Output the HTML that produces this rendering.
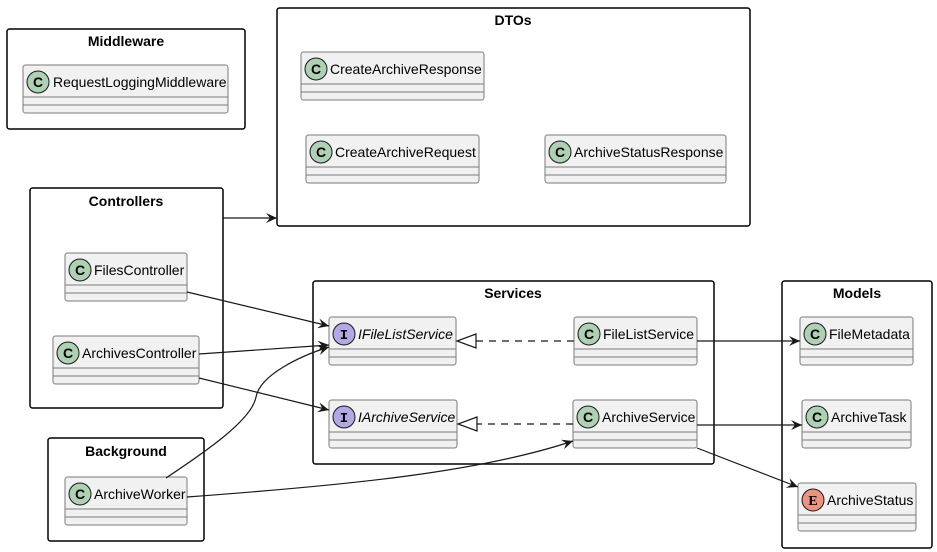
<!DOCTYPE html>
<html><head><meta charset="utf-8"><style>
html,body{margin:0;padding:0;background:#fff;}
svg{display:block;font-family:"Liberation Sans",sans-serif;}
.pk{fill:none;stroke:#000;stroke-width:1.5;}
.pt{font-weight:bold;font-size:14px;text-anchor:middle;}
.cb{fill:#F1F1F1;stroke:#7a7a7a;stroke-width:1;}
.cl{stroke:#7a7a7a;stroke-width:1;}
.nm{font-size:14px;fill:#000;}
.ic{fill:#ADD1B2;stroke:#181818;stroke-width:1;}
.ii{fill:#B4A7E5;stroke:#181818;stroke-width:1;}
.ie{fill:#EB937F;stroke:#181818;stroke-width:1;}
.lt{font-weight:bold;font-size:14px;text-anchor:middle;}
.ln{fill:none;stroke:#181818;stroke-width:1.2;}
</style></head><body>
<svg width="937" height="552" viewBox="0 0 937 552" xmlns="http://www.w3.org/2000/svg">
<defs>
<marker id="a" viewBox="0 0 12 10" refX="11" refY="5" markerWidth="12" markerHeight="10" markerUnits="userSpaceOnUse" orient="auto">
<path d="M0,0 L11,5 L0,10 L4,5 Z" fill="#181818"/>
</marker>
</defs>
<!-- packages -->
<rect class="pk" x="7" y="29" width="238" height="100" rx="2.5"/><text class="pt" x="126" y="46">Middleware</text>
<rect class="pk" x="277" y="8" width="473" height="218" rx="2.5"/><text class="pt" x="513" y="25">DTOs</text>
<rect class="pk" x="30" y="188" width="193" height="220" rx="2.5"/><text class="pt" x="126" y="206">Controllers</text>
<rect class="pk" x="313" y="281" width="401" height="183" rx="2.5"/><text class="pt" x="513" y="298">Services</text>
<rect class="pk" x="782" y="281" width="150" height="267" rx="2.5"/><text class="pt" x="857" y="298">Models</text>
<rect class="pk" x="48" y="438" width="156" height="103" rx="2.5"/><text class="pt" x="126" y="456">Background</text>

<!-- classes -->
<g>
<rect class="cb" x="23" y="65" width="205" height="48" rx="2.5"/><line class="cl" x1="23" y1="97" x2="228" y2="97"/><line class="cl" x1="23" y1="105" x2="228" y2="105"/>
<circle class="ic" cx="38" cy="82" r="11"/><text class="lt" x="38" y="87">C</text><text class="nm" x="53" y="87">RequestLoggingMiddleware</text>

<rect class="cb" x="301" y="52" width="183" height="48" rx="2.5"/><line class="cl" x1="301" y1="84" x2="484" y2="84"/><line class="cl" x1="301" y1="92" x2="484" y2="92"/>
<circle class="ic" cx="316" cy="69" r="11"/><text class="lt" x="316" y="74">C</text><text class="nm" x="330" y="74">CreateArchiveResponse</text>

<rect class="cb" x="306" y="135" width="173" height="48" rx="2.5"/><line class="cl" x1="306" y1="167" x2="479" y2="167"/><line class="cl" x1="306" y1="175" x2="479" y2="175"/>
<circle class="ic" cx="321" cy="152" r="11"/><text class="lt" x="321" y="157">C</text><text class="nm" x="335" y="157">CreateArchiveRequest</text>

<rect class="cb" x="545" y="135" width="181" height="48" rx="2.5"/><line class="cl" x1="545" y1="167" x2="726" y2="167"/><line class="cl" x1="545" y1="175" x2="726" y2="175"/>
<circle class="ic" cx="560" cy="152" r="11"/><text class="lt" x="560" y="157">C</text><text class="nm" x="574" y="157">ArchiveStatusResponse</text>

<rect class="cb" x="65" y="253" width="122" height="48" rx="2.5"/><line class="cl" x1="65" y1="285" x2="187" y2="285"/><line class="cl" x1="65" y1="293" x2="187" y2="293"/>
<circle class="ic" cx="80" cy="270" r="11"/><text class="lt" x="80" y="275">C</text><text class="nm" x="94" y="275">FilesController</text>

<rect class="cb" x="53" y="336" width="146" height="48" rx="2.5"/><line class="cl" x1="53" y1="368" x2="199" y2="368"/><line class="cl" x1="53" y1="376" x2="199" y2="376"/>
<circle class="ic" cx="68" cy="353" r="11"/><text class="lt" x="68" y="358">C</text><text class="nm" x="82" y="358">ArchivesController</text>

<rect class="cb" x="329" y="317" width="127" height="48" rx="2.5"/><line class="cl" x1="329" y1="349" x2="456" y2="349"/><line class="cl" x1="329" y1="357" x2="456" y2="357"/>
<circle class="ii" cx="344" cy="334" r="11"/><text class="lt" x="344" y="339" style="font-family:'Liberation Mono',monospace">I</text><text class="nm" x="358" y="339" font-style="italic">IFileListService</text>

<rect class="cb" x="329" y="400" width="128" height="48" rx="2.5"/><line class="cl" x1="329" y1="432" x2="457" y2="432"/><line class="cl" x1="329" y1="440" x2="457" y2="440"/>
<circle class="ii" cx="344" cy="417" r="11"/><text class="lt" x="344" y="422" style="font-family:'Liberation Mono',monospace">I</text><text class="nm" x="358" y="422" font-style="italic">IArchiveService</text>

<rect class="cb" x="574" y="317" width="123" height="48" rx="2.5"/><line class="cl" x1="574" y1="349" x2="697" y2="349"/><line class="cl" x1="574" y1="357" x2="697" y2="357"/>
<circle class="ic" cx="589" cy="334" r="11"/><text class="lt" x="589" y="339">C</text><text class="nm" x="603" y="339">FileListService</text>

<rect class="cb" x="573" y="400" width="124" height="48" rx="2.5"/><line class="cl" x1="573" y1="432" x2="697" y2="432"/><line class="cl" x1="573" y1="440" x2="697" y2="440"/>
<circle class="ic" cx="588" cy="417" r="11"/><text class="lt" x="588" y="422">C</text><text class="nm" x="602" y="422">ArchiveService</text>

<rect class="cb" x="800" y="317" width="113" height="48" rx="2.5"/><line class="cl" x1="800" y1="349" x2="913" y2="349"/><line class="cl" x1="800" y1="357" x2="913" y2="357"/>
<circle class="ic" cx="815" cy="334" r="11"/><text class="lt" x="815" y="339">C</text><text class="nm" x="829" y="339">FileMetadata</text>

<rect class="cb" x="802" y="400" width="109" height="48" rx="2.5"/><line class="cl" x1="802" y1="432" x2="911" y2="432"/><line class="cl" x1="802" y1="440" x2="911" y2="440"/>
<circle class="ic" cx="817" cy="417" r="11"/><text class="lt" x="817" y="422">C</text><text class="nm" x="831" y="422">ArchiveTask</text>

<rect class="cb" x="798" y="483" width="118" height="48" rx="2.5"/><line class="cl" x1="798" y1="515" x2="916" y2="515"/><line class="cl" x1="798" y1="523" x2="916" y2="523"/>
<circle class="ie" cx="813" cy="500" r="11"/><text class="lt" x="813" y="505" style="font-family:'Liberation Serif',serif">E</text><text class="nm" x="827" y="505">ArchiveStatus</text>

<rect class="cb" x="65" y="477" width="122" height="48" rx="2.5"/><line class="cl" x1="65" y1="509" x2="187" y2="509"/><line class="cl" x1="65" y1="517" x2="187" y2="517"/>
<circle class="ic" cx="80" cy="494" r="11"/><text class="lt" x="80" y="499">C</text><text class="nm" x="94" y="499">ArchiveWorker</text>
</g>

<!-- connectors -->
<path class="ln" d="M223,218 L277,218" marker-end="url(#a)"/>
<path class="ln" d="M187,292 L329,326" marker-end="url(#a)"/>
<path class="ln" d="M199,354 L329,345" marker-end="url(#a)"/>
<path class="ln" d="M199,378 L329,410" marker-end="url(#a)"/>
<path class="ln" d="M166,478 C205,452 252,420 256,397 C260,375 300,356 329,347" marker-end="url(#a)"/>
<path class="ln" d="M187,497 C350,485 480,472 573,441" marker-end="url(#a)"/>
<path class="ln" d="M574,341 L476,341" stroke-dasharray="7,6"/>
<path d="M476,334 L457,341 L476,348 Z" fill="#fff" stroke="#181818" stroke-width="1.2"/>
<path class="ln" d="M573,424 L477,424" stroke-dasharray="7,6"/>
<path d="M477,417 L458,424 L477,431 Z" fill="#fff" stroke="#181818" stroke-width="1.2"/>
<path class="ln" d="M697,341 L800,341" marker-end="url(#a)"/>
<path class="ln" d="M697,425 L802,425" marker-end="url(#a)"/>
<path class="ln" d="M697,448 L798,487" marker-end="url(#a)"/>
</svg>
</body></html>
